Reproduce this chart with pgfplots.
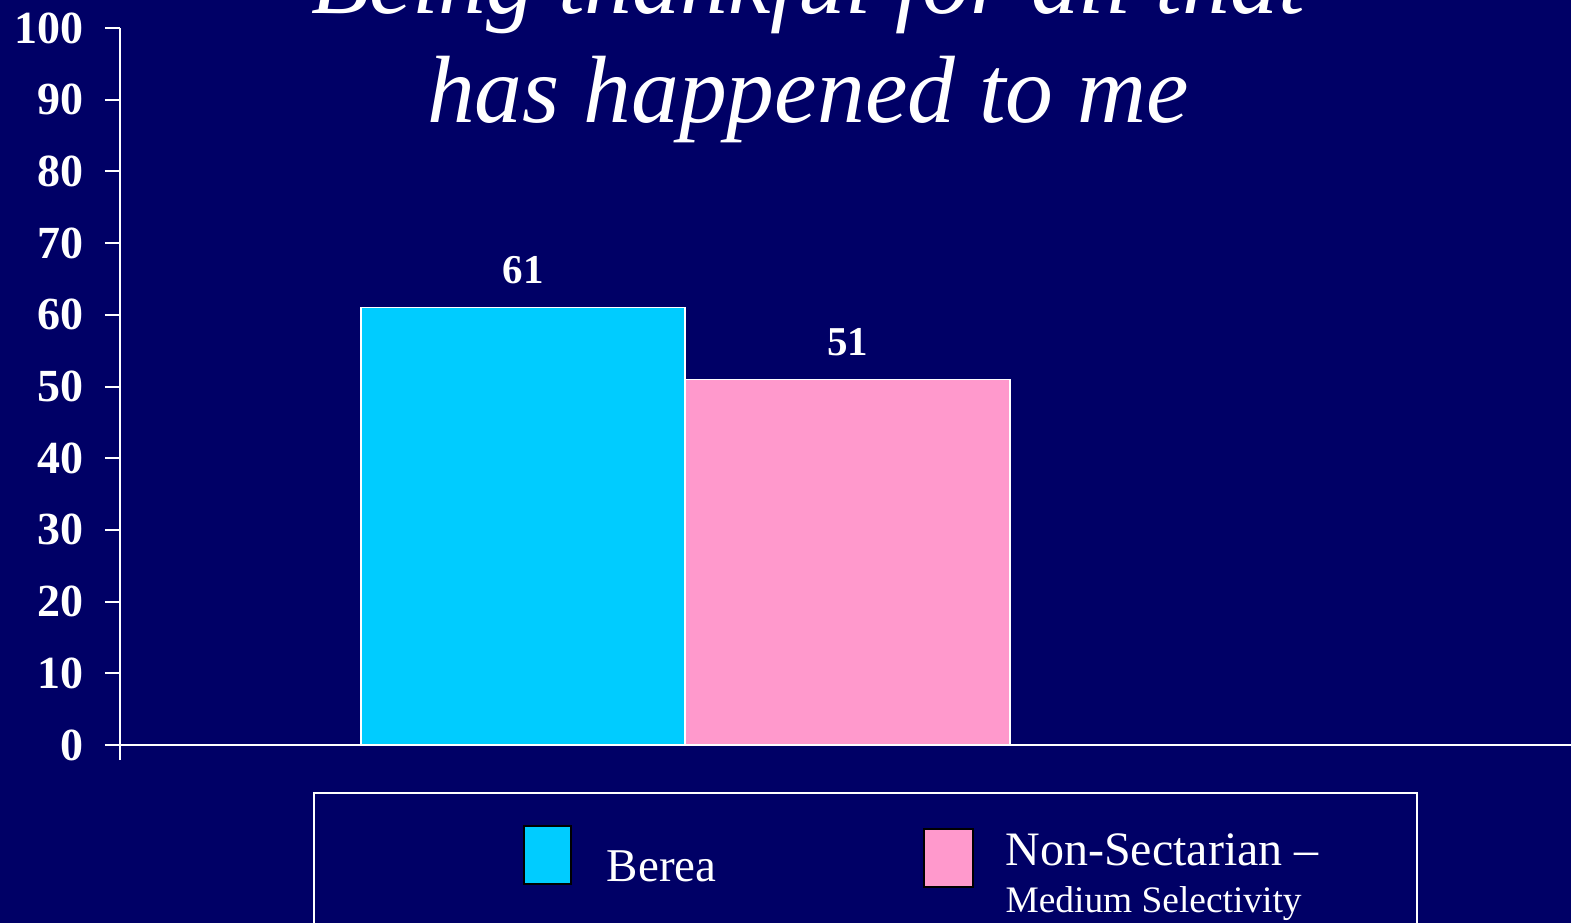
\documentclass[border=0pt]{standalone}
\usepackage{pgfplots}
\pgfplotsset{compat=1.18}
\usepackage{fontspec}
\setmainfont{Liberation Serif}
\definecolor{bg}{RGB}{0,0,102}
\definecolor{cyanc}{RGB}{0,204,255}
\definecolor{pinkc}{RGB}{255,153,204}
\begin{document}
\begin{tikzpicture}
\useasboundingbox (0,0) rectangle (785.5pt,461.5pt);
\clip (0,0) rectangle (785.5pt,461.5pt);
\fill[bg] (0,0) rectangle (785.5pt,461.5pt);
\begin{axis}[
  at={(60pt,89pt)}, anchor=south west,
  scale only axis, width=727.5pt, height=358.5pt,
  xmin=120, xmax=1575, ymin=0, ymax=100,
  axis lines*=left,
  axis line style={white, line width=1pt},
  tick style={white, line width=1pt},
  major tick length=7.5pt,
  tick align=outside,
  xtick={120}, xticklabels={},
  ytick={0,10,...,100},
  yticklabel style={font=\fontsize{23}{27}\selectfont\bfseries, text=white, inner xsep=0pt, xshift=-10.5pt},
  /pgf/number format/assume math mode=true,
  ybar, bar width=324.5,
  nodes near coords,
  nodes near coords style={font=\fontsize{20.5}{24}\selectfont\bfseries, text=white, anchor=base, inner sep=0pt, yshift=12pt},
  title={Being thankful for all that\\has happened to me},
  title style={at={(axis cs:808,85.2)}, anchor=base, inner sep=0pt, align=center, font=\fontsize{47.8}{54.5}\selectfont\itshape, text=white},
  legend cell align=left,
  legend style={at={(0.13265,-0.06555)}, anchor=north west, draw=white, line width=1pt, fill=none, text=white, legend columns=2, inner xsep=49pt, inner ysep=16pt, font=\fontsize{23.5}{28}\selectfont, cells={anchor=base west}, nodes={inner sep=0pt, anchor=base west}, /tikz/every odd column/.append style={column sep=0pt}, /tikz/every even column/.append style={column sep=103pt}},
  clip=false,
]
\addplot[fill=cyanc, draw=white, line width=0.8pt, bar shift=0pt,
  legend image code/.code={\path[draw=none,fill=none] (-56pt,-45pt) rectangle (41.5pt,0pt); \draw[black, fill=cyanc, line width=1pt] (0pt,-9.5pt) rectangle (23.5pt,19.5pt);}]
  coordinates {(523,61)};
\addlegendentry{\raisebox{-8pt}{Berea}}
\addplot[fill=pinkc, draw=white, line width=0.8pt, bar shift=0pt,
  legend image code/.code={\path[draw=none,fill=none] (0pt,0pt) rectangle (41pt,0pt); \draw[black, fill=pinkc, line width=1pt] (0pt,-11pt) rectangle (24.5pt,18pt);}]
  coordinates {(847.5,51)};
\addlegendentry{\vtop{\baselineskip=23.5pt\hbox{\fontsize{24}{28}\selectfont Non-Sectarian –}\hbox{\fontsize{18.7}{22}\selectfont Medium Selectivity}}}
\end{axis}
\end{tikzpicture}
\end{document}
